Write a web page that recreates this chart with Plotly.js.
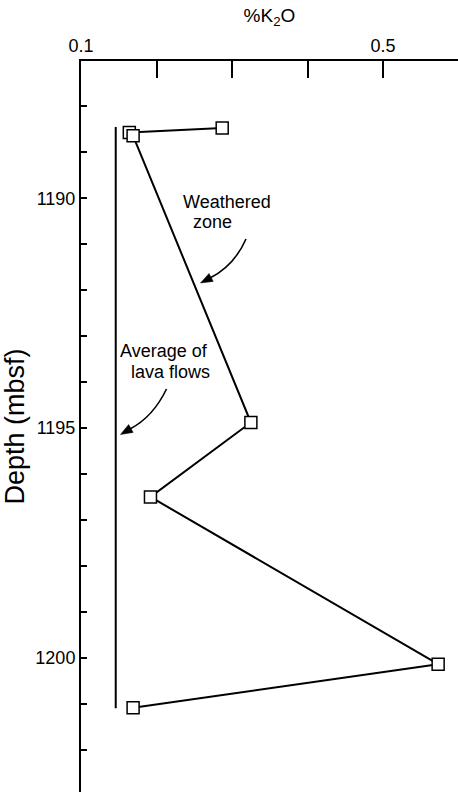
<!DOCTYPE html>
<html><head><meta charset="utf-8">
<script src="https://cdn.plot.ly/plotly-3.0.1.min.js"></script>
<style>html,body{margin:0;padding:0;background:#fff;}</style>
</head><body><div id="chart" style="width:458px;height:792px;"></div>
<script>
// ---- data ----
const k2o   = [0.287, 0.164, 0.169, 0.325, 0.192, 0.573, 0.169];
const depth = [1188.47, 1188.57, 1188.64, 1194.88, 1196.50, 1200.14, 1201.09];
const avgK2O   = [0.146, 0.146];
const avgDepth = [1188.45, 1201.10];
const xTickVals  = [0.1, 0.5];
const xTickText  = ['0.1', '0.5'];
const xMinorVals = [0.2, 0.3, 0.4, 0.6];
const yTickVals  = [1190, 1195, 1200];
const yTickText  = ['1190', '1195', '1200'];
const yMinorVals = [1187,1188,1189,1191,1192,1193,1194,1196,1197,1198,1199,1201,1202];

// ---- layout geometry ----
const W = 458, H = 792;
const M = {l: 81, r: 0, t: 61, b: 0};
const xRange = [0.1, 0.5993];
const yTop = 1187.011, yBot = 1202.923;
const pw = W - M.l - M.r, ph = H - M.t - M.b;
const px2x = p => xRange[0] + (p - M.l) / pw * (xRange[1] - xRange[0]);
const py2y = p => yTop + (p - M.t) / ph * (yBot - yTop);
const P = (px, py) => px2x(px) + ',' + py2y(py);

function curvedArrow(s, c, e, tip, hw) {
  const dx = tip[0] - e[0], dy = tip[1] - e[1];
  const L = Math.hypot(dx, dy), ux = dx / L, uy = dy / L;
  const bx = tip[0] - ux * 12, by = tip[1] - uy * 12;
  const a = [bx - uy * hw, by + ux * hw], b = [bx + uy * hw, by - ux * hw];
  return [
    {type: 'path', xref: 'x', yref: 'y', path: 'M ' + P(s[0], s[1]) + ' Q ' + P(c[0], c[1]) + ' ' + P(e[0], e[1]),
     line: {color: '#000', width: 1.6}},
    {type: 'path', xref: 'x', yref: 'y', path: 'M ' + P(tip[0], tip[1]) + ' L ' + P(a[0], a[1]) + ' L ' + P(b[0], b[1]) + ' Z',
     line: {color: '#000', width: 0.5}, fillcolor: '#000'}
  ];
}

const shapes = [].concat(
  curvedArrow([246, 239], [234, 266], [210, 278], [200.5, 283], 4.5),
  curvedArrow([166.5, 389], [153, 417], [130, 429], [120.5, 434.5], 4.5)
);

const FONT = 'Liberation Sans, Arial, Helvetica, sans-serif';
const ann = (text, px, py) => ({text, x: px2x(px), y: py2y(py), xref: 'x', yref: 'y',
  showarrow: false, xanchor: 'center', yanchor: 'middle', font: {size: 18, color: '#000', family: FONT}});

const traces = [
  {x: avgK2O, y: avgDepth, mode: 'lines', line: {color: '#000', width: 2}, hoverinfo: 'skip'},
  {x: k2o, y: depth, mode: 'lines+markers', line: {color: '#000', width: 2},
   marker: {symbol: 'square', size: 12, color: '#fff', line: {color: '#000', width: 1.5}}}
];

const layout = {
  width: W, height: H, margin: M, showlegend: false,
  paper_bgcolor: '#fff', plot_bgcolor: '#fff',
  font: {family: FONT, color: '#000'},
  xaxis: {side: 'top', range: xRange, tickmode: 'array', tickvals: xTickVals, ticktext: xTickText,
    ticks: 'inside', ticklen: 17, tickwidth: 2, tickcolor: '#000',
    minor: {tickmode: 'array', tickvals: xMinorVals, ticks: 'inside', ticklen: 17, tickwidth: 2, tickcolor: '#000', showgrid: false},
    showline: true, linewidth: 2, linecolor: '#000', showgrid: false, zeroline: false,
    tickfont: {size: 18, family: FONT}, automargin: false,
    title: {text: '%K<sub>2</sub>O\u00a0\u00a0\u00a0', font: {size: 19, family: FONT}, standoff: 8}},
  yaxis: {range: [yBot, yTop], tickmode: 'array', tickvals: yTickVals, ticktext: yTickText,
    ticks: 'inside', ticklen: 6, tickwidth: 2, tickcolor: '#000',
    minor: {tickmode: 'array', tickvals: yMinorVals, ticks: 'inside', ticklen: 6, tickwidth: 2, tickcolor: '#000', showgrid: false},
    showline: true, linewidth: 2, linecolor: '#000', showgrid: false, zeroline: false,
    tickfont: {size: 18, family: FONT}, automargin: false,
    title: {text: 'Depth (mbsf)', font: {size: 27, family: FONT}}},
  shapes: shapes,
  annotations: [
    ann('Weathered', 227, 201.5),
    ann('zone', 212.5, 222),
    ann('Average of', 163.5, 351),
    ann('lava flows', 170, 372)
  ]
};

Plotly.newPlot('chart', traces, layout, {displayModeBar: false, staticPlot: true});
</script>
</body></html>
